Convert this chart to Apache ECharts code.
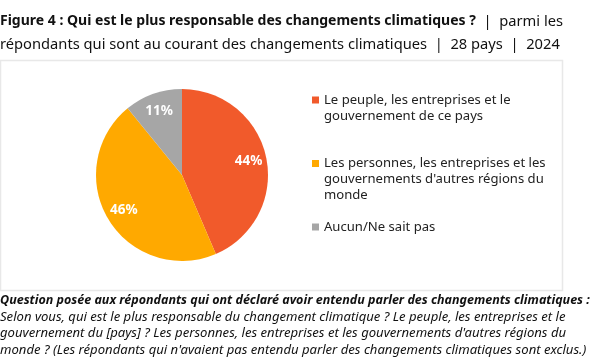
<!DOCTYPE html>
<html><head><meta charset="utf-8">
<script src="https://cdn.jsdelivr.net/npm/echarts@6/dist/echarts.min.js"></script>
<style>html,body{margin:0;padding:0;background:#fff}#c{width:600px;height:358px}</style>
</head><body><div id="c"></div>
<script>
const categories = [
  'Le peuple, les entreprises et le\ngouvernement de ce pays',
  "Les personnes, les entreprises et les\ngouvernements d'autres régions du\nmonde",
  'Aucun/Ne sait pas'
];
const values = [44, 46, 11];
const colors = ['#F15A2B', '#FFA900', '#A6A6A6'];
const FONT = 'Noto Sans';

const chart = echarts.init(document.getElementById('c'));
const data = categories.map((n, i) => ({ name: n, value: values[i], itemStyle: { color: colors[i] } }));
const lineH = 16;
const legendTops = [92, 155.5, 219];
const legends = categories.map((n, i) => {
  const lines = n.split('\n').length;
  const h = lineH * lines;
  const sq = (lineH - 7) / 2;
  return {
    left: 312, top: legendTops[i], orient: 'vertical', padding: 0,
    itemWidth: 7, itemHeight: h,
    icon: 'path://M0,0M7,' + h + 'M0,' + sq + 'h7v7h-7z',
    itemStyle: { borderWidth: 0 },
    data: [{ name: n }],
    textStyle: { fontFamily: FONT, fontSize: 13.1, color: '#222', lineHeight: lineH }
  };
});
chart.setOption({
  animation: false,
  title: [{
    left: 0, top: 10, padding: 0,
    text: '{b|Figure 4 : Qui est le plus responsable des changements climatiques ?}{n|  |  parmi les}\n{n|répondants qui sont au courant des changements climatiques  |  28 pays  |  2024}',
    textStyle: { fontWeight: 'normal', rich: {
      b: { fontFamily: FONT, fontWeight: 'bold', fontSize: 14, color: '#111', lineHeight: 23 },
      n: { fontFamily: FONT, fontWeight: 'normal', fontSize: 14.7, color: '#111', lineHeight: 23 }
    } }
  }, {
    left: 0, top: 292, padding: 0,
    text: '{b|Question posée aux répondants qui ont déclaré avoir entendu parler des changements climatiques :}\n{i|Selon vous, qui est le plus responsable du changement climatique ? Le peuple, les entreprises et le}\n{i|gouvernement du [pays] ? Les personnes, les entreprises et les gouvernements d\'autres régions du}\n{i|monde ? (Les répondants qui n\'avaient pas entendu parler des changements climatiques sont exclus.)}',
    textStyle: { fontWeight: 'normal', rich: {
      b: { fontFamily: FONT, fontWeight: 'bold', fontStyle: 'italic', fontSize: 12.5, color: '#111', lineHeight: 16.6 },
      i: { fontFamily: FONT, fontWeight: 'normal', fontStyle: 'italic', fontSize: 13.1, color: '#111', lineHeight: 16.6 }
    } }
  }],
  legend: legends,
  graphic: [{
    type: 'rect', silent: true, z: -1,
    shape: { x: 0.5, y: 60.5, width: 562, height: 230 },
    style: { fill: 'none', stroke: '#e8e8e8', lineWidth: 1.5 }
  }],
  series: [{
    type: 'pie', center: [182, 175], radius: 86, startAngle: 90, clockwise: true,
    data: data, label: { show: false }, labelLine: { show: false },
    emphasis: { disabled: true }
  }, {
    type: 'pie', center: [182, 175], radius: [44, 86], startAngle: 90, clockwise: true,
    silent: true, legendHoverLink: false,
    data: data.map(d => ({ name: d.name, value: d.value, itemStyle: { color: 'rgba(0,0,0,0)' } })),
    label: { show: true, position: 'inside', formatter: p => p.value + '%', color: '#fff', fontFamily: FONT, fontWeight: 'bold', fontSize: 13.5 },
    labelLine: { show: false }, emphasis: { disabled: true }
  }]
});
</script></body></html>
